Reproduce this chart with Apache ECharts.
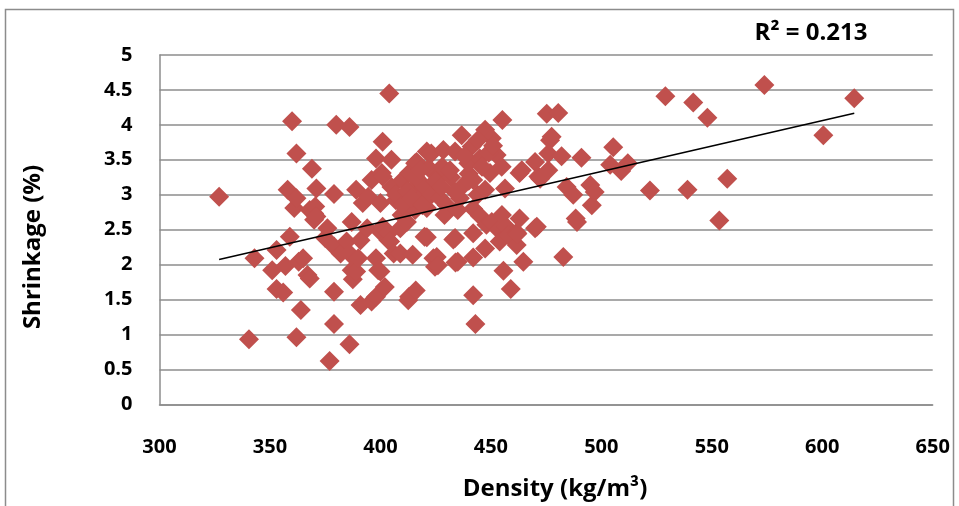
<!DOCTYPE html>
<html>
<head>
<meta charset="utf-8">
<script src="https://cdn.jsdelivr.net/npm/echarts@6/dist/echarts.min.js"></script>
<style>
  html, body { margin: 0; padding: 0; background: #fff; }
  #chart { width: 959px; height: 506px; }
</style>
</head>
<body>
<div id="chart"></div>
<script>
// Wood density (kg/m³) against shrinkage (%) for each specimen
const density = [
  327, 340.5, 343, 351, 353, 353, 356, 357, 358, 359, 360, 361, 362, 362, 362, 363, 364, 365, 367, 368,
  368, 369, 370, 370, 370.5, 371, 371, 375, 376, 377, 379, 379, 379, 379, 380, 382, 384.7, 386, 386, 386,
  387, 387, 387.5, 389, 389, 390, 391, 391, 392, 394, 394.5, 396, 396,
  398, 398, 398, 399, 400, 400, 400, 400.6, 401, 401, 401, 402, 403.6, 403.6, 404, 404.4, 405, 405, 406, 407,
  409, 409, 409.6, 410, 412, 412.6, 413, 413, 414.6, 415.7, 415.7, 415.7, 416, 416.4, 418, 419, 420, 420,
  421, 421, 421, 422, 423, 424, 424.7, 425.5, 426, 426,
  407, 410, 412, 414, 416, 418, 419, 423, 425, 427, 428, 430, 432, 436, 438, 440, 444, 429, 435, 442, 445,
  427.7, 428.5, 431.5, 433, 433.8, 433.8, 433.8, 434, 435, 436.8, 439.8, 441.3, 442, 442, 442, 442, 443, 445,
  447.4, 447.4, 447.4, 448, 449.6, 450.4, 450.4, 452.6, 453.4, 454, 454.9, 455, 455.2, 455.7, 456.4, 457, 458,
  459, 461.7, 461.7, 462, 463, 463, 464, 464.7, 470, 470, 470.8, 471.5, 472.3, 475.3, 476, 476, 476.8, 477.5,
  480.5, 482, 482.8, 484.3, 487.3, 488.4, 489, 491, 495, 495.7, 497, 504, 505.4, 509, 512, 522, 529, 539,
  541.6, 548, 553.4, 557, 573.8, 600.5, 614.5,
  438, 444, 446, 449, 451, 440
];
const shrinkage = [
  2.97, 0.93, 2.09, 1.92, 2.21, 1.65, 1.60, 1.98, 3.07, 2.40, 4.05, 2.81, 3.59, 0.96, 2.95, 2.04, 1.35, 2.09, 1.85, 1.80,
  2.78, 3.37, 2.64, 2.73, 2.83, 3.09, 2.69, 2.38, 2.52, 0.62, 1.15, 1.61, 3.01, 2.26, 4.00, 2.16, 2.33, 3.97, 0.86, 2.16,
  2.61, 1.92, 1.79, 1.90, 3.07, 2.09, 2.35, 1.42, 2.88, 2.52, 2.97, 1.47, 3.21,
  3.52, 1.54, 2.09, 1.92, 2.88, 2.47, 1.90, 3.31, 3.76, 3.26, 2.54, 1.68, 2.35, 2.45, 4.45, 2.33, 3.50, 3.11, 2.16, 2.92,
  2.16, 2.52, 2.71, 3.21, 2.61, 1.49, 1.54, 3.31, 2.14, 3.45, 3.11, 2.78, 1.63, 3.47, 2.95, 3.15, 2.40, 3.11,
  3.62, 2.81, 2.39, 3.38, 3.59, 2.09, 1.97, 2.11, 3.26, 1.99,
  3.00, 2.85, 3.05, 2.95, 3.25, 3.35, 2.85, 3.00, 3.20, 2.95, 3.40, 2.85, 3.25, 2.95, 3.15, 3.30, 3.00, 2.71, 2.78, 2.80, 2.70,
  3.11, 3.64, 3.35, 2.36, 3.62, 3.04, 2.38, 2.03, 2.04, 3.85, 3.45, 3.69, 3.21, 2.10, 2.45, 1.56, 1.15, 3.52,
  3.93, 3.07, 2.23, 2.57, 3.31, 3.81, 2.61, 3.57, 2.50, 2.33, 3.40, 2.71, 4.07, 1.91, 3.09, 2.54, 2.42,
  1.65, 2.28, 2.46, 2.44, 3.31, 2.66, 3.35, 2.04, 3.47, 2.52, 2.54, 3.26, 3.23, 4.16, 3.35, 3.59, 3.78, 3.83,
  4.17, 3.55, 2.11, 3.11, 3.00, 2.66, 2.61, 3.53, 3.14, 2.85, 3.04, 3.43, 3.68, 3.34, 3.45, 3.06, 4.41, 3.07,
  4.32, 4.10, 2.63, 3.23, 4.57, 3.85, 4.38,
  3.55, 3.78, 3.40, 3.60, 3.70, 3.20
];

// Linear trendline fitted to the data
const trendSlope = 0.00728;
const trendIntercept = -0.307;
const rSquaredText = 'R² = 0.213';

const xTicks = { min: 300, max: 650, step: 50 };
const yTicks = { min: 0, max: 5, step: 0.5 };

const points = density.map((d, i) => [d, shrinkage[i]]);
const xMin = Math.min(...density);
const xMax = Math.max(...density);
const trendLine = [
  [xMin, trendSlope * xMin + trendIntercept],
  [xMax, trendSlope * xMax + trendIntercept]
];

const FONT = '"Open Sans", "DejaVu Sans", sans-serif';
const chart = echarts.init(document.getElementById('chart'), null, { renderer: 'canvas' });

chart.setOption({
  animation: false,
  backgroundColor: '#ffffff',
  grid: { left: 159.5, right: 26.3, top: 55, bottom: 101.7, containLabel: false },
  xAxis: {
    type: 'value',
    min: xTicks.min, max: xTicks.max, interval: xTicks.step,
    axisLine: { show: true, lineStyle: { color: '#8c8c8c', width: 1.5 } },
    axisTick: { show: false },
    splitLine: { show: false },
    axisLabel: { margin: 33, color: '#000', fontFamily: FONT, fontWeight: 'bold', fontSize: 20 }
  },
  yAxis: {
    type: 'value',
    min: yTicks.min, max: yTicks.max, interval: yTicks.step,
    axisLine: { show: true, lineStyle: { color: '#8c8c8c', width: 1.5 } },
    axisTick: { show: false },
    splitLine: { show: true, lineStyle: { color: '#8c8c8c', width: 1.5 } },
    axisLabel: { margin: 27, color: '#000', fontFamily: FONT, fontWeight: 'bold', fontSize: 20 }
  },
  series: [
    {
      type: 'scatter',
      data: points,
      symbol: 'diamond',
      symbolSize: 20,
      itemStyle: { color: '#C0504D', opacity: 1 },
      z: 2
    },
    {
      type: 'line',
      data: trendLine,
      symbol: 'none',
      lineStyle: { color: '#000', width: 1.6 },
      z: 3
    }
  ],
  graphic: [
    {
      type: 'rect', silent: true, z: -1,
      shape: { x: 5.5, y: 9.5, width: 948, height: 520 },
      style: { fill: 'none', stroke: '#8c8c8c', lineWidth: 1.5 }
    },
    {
      type: 'text', x: 811, y: 33,
      style: { text: rSquaredText, fill: '#000', font: 'bold 24px ' + FONT, align: 'center', verticalAlign: 'middle' }
    },
    {
      type: 'text', x: 555, y: 489,
      style: { text: 'Density (kg/m³)', fill: '#000', font: 'bold 24px ' + FONT, align: 'center', verticalAlign: 'middle' }
    },
    {
      type: 'text', x: 33, y: 247, rotation: Math.PI / 2,
      style: { text: 'Shrinkage (%)', fill: '#000', font: 'bold 24px ' + FONT, align: 'center', verticalAlign: 'middle' }
    }
  ]
});
</script>
</body>
</html>
